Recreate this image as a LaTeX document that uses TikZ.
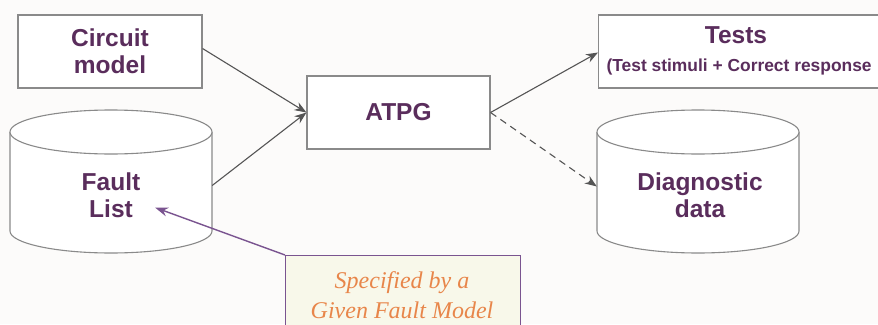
\documentclass[tikz,border=0pt]{standalone}
\usepackage{fontspec}
\setmainfont{Liberation Sans}
\newfontfamily\calloutfont{Liberation Serif}
\usetikzlibrary{arrows.meta}
\definecolor{bg}{HTML}{FCFBFA}
\definecolor{ink}{HTML}{5A2D5C}
\definecolor{edge}{HTML}{8A8A8A}
\definecolor{wire}{HTML}{555555}
\definecolor{notefill}{HTML}{F8F8EA}
\definecolor{noteedge}{HTML}{7A5490}
\definecolor{notetext}{HTML}{E8864A}
\tikzset{
  procbox/.style={draw=edge, line width=1.1pt, fill=white, text=ink,
    font=\fontsize{24.5}{27}\selectfont\bfseries, align=center, inner sep=0pt},
  label/.style={text=ink, font=\fontsize{24.5}{27}\selectfont\bfseries, align=center},
  flow/.style={draw=wire, line width=1.1pt, -{Stealth[length=12pt,width=9pt]}},
  dflow/.style={flow, dash pattern=on 7pt off 5pt},
  drum/.style={draw=edge, line width=1.1pt, fill=white},
  note/.style={draw=noteedge, line width=1.4pt, fill=notefill},
}
\begin{document}
\begin{tikzpicture}[x=1pt, y=-1pt]
  \fill[bg] (0,0) rectangle (878,324);
  \clip (0,0) rectangle (878,324);
  \useasboundingbox (0,0) rectangle (878,324);

  % rectangular blocks
  \node[procbox, minimum width=184pt, minimum height=73pt] (circuit) at (110,51.5)
    {Circuit\\model};
  \node[procbox, minimum width=183pt, minimum height=73pt] (atpg) at (398.5,112.5) {ATPG};
  \node[draw=edge, line width=1.1pt, fill=white, minimum width=300pt, minimum height=73pt,
    anchor=west, inner sep=0pt] (tests) at (598,51.5) {};
  \node[label] (teststitle) at (736,35) {Tests};
  \node[text=ink, font=\fontsize{17.4}{19}\selectfont\bfseries, anchor=west] (testsnote)
    at (603,67) {(Test stimuli + Correct response};

  % storage drums
  \foreach \cx in {111, 698}{
    \path[drum] (\cx-101,132) -- (\cx-101,231) arc[start angle=180, end angle=360,
      x radius=101pt, y radius=22pt] -- (\cx+101,132);
    \draw[drum] (\cx,132) ellipse[x radius=101pt, y radius=22pt];
  }
  \node[minimum width=202pt, minimum height=143pt, inner sep=0pt] (fault) at (111,181.5) {};
  \node[minimum width=202pt, minimum height=143pt, inner sep=0pt] (diag) at (698,181.5) {};
  \node[label] (faulttext) at (111,195) {Fault\\List};
  \node[label] (diagtext) at (700,195) {Diagnostic\\data};
  \coordinate (listtip) at ([xshift=44pt,yshift=-26pt]fault.center);

  % annotation
  \node[note, minimum width=235pt, minimum height=80pt, anchor=north west, inner sep=0pt]
    (spec) at (285,255) {};
  \node[text=notetext, font=\calloutfont\itshape\fontsize{24}{30}\selectfont, align=center]
    (spectext) at (402,295) {Specified by a\\Given Fault Model};

  % connectors
  \draw[flow] ([yshift=3pt]circuit.east) -- (atpg.west);
  \draw[flow] ([yshift=-4pt]fault.east) -- (atpg.west);
  \draw[flow] (atpg.east) -- ([yshift=-1pt]tests.west);
  \draw[dflow] (atpg.east) -- ([yshift=-5pt]diag.west);
  \draw[draw=noteedge, line width=1.4pt, -{Stealth[length=13pt,width=9pt]}]
    (spec.north west) -- (listtip);
\end{tikzpicture}
\end{document}
